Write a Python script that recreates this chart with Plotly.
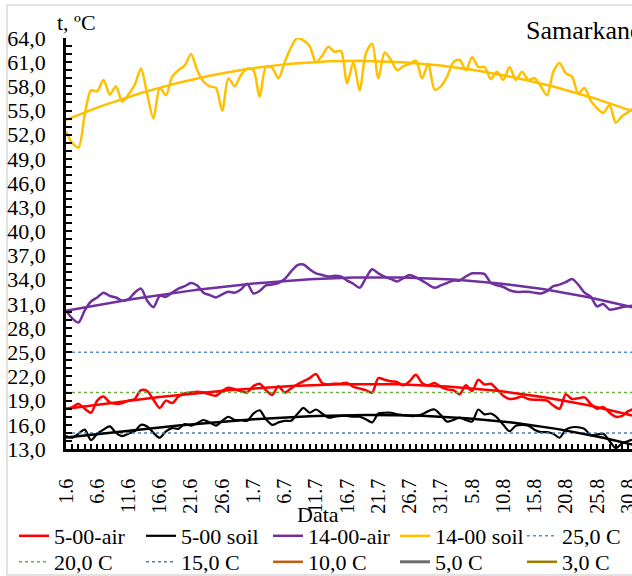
import numpy as np
import plotly.graph_objects as go

# ---- data -------------------------------------------------------------
month_lengths = {"6": 30, "7": 31, "8": 31}
dates = [f"{d}.{m}" for m, n in month_lengths.items() for d in range(1, n + 1)]
tick_labels = dates[::5]

air_5 = [18.0, 18.2, 18.6, 18.0, 17.5, 19.0, 19.5, 18.8, 18.6, 18.7,
         19.0, 19.2, 20.3, 20.2, 19.1, 18.1, 19.0, 18.7, 19.5, 19.9,
         20.0, 20.1, 20.0, 19.8, 19.6, 20.2, 20.6, 20.4, 20.2, 20.0,
         20.8, 21.1, 20.3, 19.7, 20.8, 20.0, 20.5, 21.0, 21.4, 21.8,
         22.3, 21.2, 21.0, 21.1, 21.1, 21.2, 20.7, 20.5, 20.3, 20.0,
         21.8, 21.6, 21.4, 21.3, 20.9, 21.4, 22.2, 21.2, 20.9, 21.2,
         20.7, 20.4, 20.3, 19.8, 20.9, 20.2, 21.6, 21.0, 21.1, 20.4,
         19.6, 19.2, 19.3, 19.5, 19.2, 19.1, 19.1, 19.0, 18.4, 18.0,
         19.8, 19.2, 19.3, 19.4, 18.6, 18.0, 18.2, 17.5, 17.0, 17.1,
         17.7, 18.0]
soil_5 = [14.6, 14.4, 14.9, 15.4, 14.1, 14.9, 15.4, 15.8, 15.0, 14.6,
          14.9, 15.2, 16.0, 15.8, 15.0, 14.4, 15.2, 15.6, 15.5, 16.1,
          15.9, 16.2, 16.6, 16.3, 15.9, 16.5, 17.0, 16.6, 16.6, 16.5,
          17.4, 17.8, 16.7, 16.0, 16.3, 16.5, 16.5, 17.3, 18.1, 17.5,
          17.9, 17.4, 16.9, 17.0, 17.1, 17.1, 17.0, 17.0, 16.7, 16.3,
          17.4, 17.5, 17.5, 17.3, 17.2, 17.1, 17.1, 17.3, 17.7, 17.9,
          17.2, 16.4, 16.6, 16.9, 16.6, 16.4, 17.9, 17.3, 17.4, 16.9,
          16.0, 15.2, 15.9, 16.0, 15.9, 15.4, 15.1, 15.1, 14.9, 14.4,
          15.4, 15.7, 15.7, 15.5, 14.7, 14.8, 14.9, 14.0, 13.1, 13.7,
          14.0, 14.2]
air_14 = [30.2, 29.2, 28.7, 30.2, 31.3, 31.8, 32.4, 32.0, 31.8, 31.4,
          31.6, 32.4, 32.9, 31.4, 30.6, 32.0, 31.9, 32.4, 32.9, 33.2,
          33.6, 33.3, 32.4, 32.1, 31.8, 32.2, 32.5, 32.4, 32.8, 33.5,
          32.3, 32.6, 33.3, 33.4, 33.6, 34.1, 35.0, 35.8, 35.9, 35.3,
          34.8, 34.6, 34.4, 34.5, 34.4, 33.9, 33.5, 33.0, 34.2, 35.3,
          34.8, 34.4, 34.1, 33.8, 34.2, 34.6, 34.3, 33.9, 33.4, 33.0,
          33.3, 33.6, 33.9, 33.9, 34.4, 34.8, 34.8, 34.7, 33.6, 33.3,
          33.1, 32.7, 32.5, 32.5, 32.5, 32.4, 32.3, 32.6, 33.2, 33.4,
          33.7, 34.1, 33.4, 32.4, 31.9, 30.7, 31.0, 30.3, 30.4, 30.6,
          30.7, 30.8]
soil_14 = [52.4, 51.0, 50.4, 54.5, 57.5, 57.4, 58.8, 57.0, 58.0, 56.1,
           57.0, 58.2, 60.2, 57.0, 54.0, 57.8, 56.9, 59.2, 60.0, 60.6,
           62.0, 60.0, 58.6, 58.0, 57.8, 55.0, 59.0, 58.0, 59.4, 60.2,
           60.0, 56.7, 60.4, 60.3, 59.0, 61.0, 62.8, 64.0, 63.7, 63.0,
           61.0, 61.8, 62.9, 62.3, 62.4, 58.4, 61.0, 57.5, 62.1, 63.3,
           59.0, 62.2, 61.3, 60.0, 60.5, 60.8, 61.2, 59.0, 60.8, 57.6,
           58.0, 59.2, 61.0, 61.3, 60.0, 61.6, 60.4, 60.4, 58.9, 59.8,
           58.8, 60.4, 58.8, 59.8, 58.8, 59.0, 58.0, 56.9, 59.8, 60.9,
           59.6, 59.2, 57.1, 57.8, 56.2, 55.3, 54.7, 55.7, 53.5, 54.3,
           54.8, 55.4]

thresholds = [25.0, 20.0, 15.0, 10.0, 5.0, 3.0]
threshold_names = ["25,0 C", "20,0 C", "15,0 C", "10,0 C", "5,0 C", "3,0 C"]

y_ticks = list(range(13, 65, 3))

# ---- figure -----------------------------------------------------------
FONT = "Liberation Serif"
FS = 22
W, H = 632, 576
ML, MT, MB = 66, 38, 127
PW, PH = W - ML, H - MT - MB

def px2x(px):
    return (px - ML) / PW

def py2y(py):
    return (MT + PH - py) / PH

days = np.arange(len(dates))
fig = go.Figure()

series = [
    ("5-00-air", air_5, "#FF0000", 2.5),
    ("5-00 soil", soil_5, "#000000", 2.2),
    ("14-00-air", air_14, "#7030A0", 2.5),
    ("14-00 soil", soil_14, "#FFC000", 2.5),
]
for name, vals, col, lw in series:
    fig.add_trace(go.Scatter(x=days, y=vals, name=name, mode="lines", legend="legend",
                             line=dict(color=col, width=lw, shape="spline", smoothing=0.8)))

th_styles = [
    ("#5B8FD0", "dot", 1.5), ("#70AD47", "dot", 1.5), ("#4F7FA8", "dot", 1.5),
    ("#C55A11", "solid", 2.5), ("#6E6E6E", "solid", 3), ("#A07C00", "solid", 2.5),
]
for i, ((val, nm), (col, dash, lw)) in enumerate(zip(zip(thresholds, threshold_names), th_styles)):
    fig.add_trace(go.Scatter(x=days, y=[val] * len(days), name=nm, mode="lines",
                             legend="legend" if i == 0 else "legend2",
                             line=dict(color=col, width=lw, dash=dash)))

# polynomial trend lines (like the spreadsheet trendlines)
for name, vals, col, lw in series:
    coef = np.polyfit(days, vals, 3)
    fig.add_trace(go.Scatter(x=days, y=np.polyval(coef, days), mode="lines",
                             showlegend=False, hoverinfo="skip",
                             line=dict(color=col, width=2.5)))

legend_common = dict(orientation="h", x=px2x(14), xanchor="left", yanchor="middle",
                     entrywidth=82, entrywidthmode="pixels", itemwidth=30,
                     tracegroupgap=0, font=dict(family=FONT, size=FS, color="black"),
                     bgcolor="rgba(0,0,0,0)")

x_end = 90.6
fig.update_layout(
    width=W, height=H,
    margin=dict(l=ML, r=0, t=MT, b=MB, autoexpand=False),
    paper_bgcolor="white", plot_bgcolor="white",
    font=dict(family=FONT, size=FS, color="black"),
    separators=", ",
    showlegend=True,
    legend=dict(legend_common, y=py2y(536)),
    legend2=dict(legend_common, y=py2y(562)),
    xaxis=dict(range=[0, x_end], showgrid=False, zeroline=False,
               showline=True, linecolor="black", linewidth=2.5,
               tickmode="array", tickvals=list(days[::5]), ticktext=tick_labels,
               tickangle=-90, ticks="inside", ticklen=5, tickwidth=1.5, tickcolor="black",
               ticklabelstandoff=19, ticklabeloverflow="allow",
               minor=dict(tickmode="linear", tick0=0, dtick=1, ticks="inside",
                          ticklen=5, tickwidth=1.5, tickcolor="black"),
               tickfont=dict(family=FONT, size=20)),
    yaxis=dict(range=[13, 64], showgrid=False, zeroline=False,
               showline=True, linecolor="black", linewidth=2.5,
               tickmode="array", tickvals=y_ticks, tickformat=".1f",
               ticks="inside", ticklen=6, tickwidth=1.5, tickcolor="black",
               ticklabelstandoff=13,
               minor=dict(tickmode="linear", tick0=13, dtick=1, ticks="inside",
                          ticklen=6, tickwidth=1.5, tickcolor="black"),
               tickfont=dict(family=FONT, size=FS)),
)

fig.add_annotation(text="Samarkand", xref="paper", yref="paper",
                   x=px2x(524), y=py2y(31), xanchor="left", yanchor="middle",
                   showarrow=False, font=dict(family=FONT, size=26, color="black"))
fig.add_annotation(text="t, ºC", xref="paper", yref="paper",
                   x=px2x(76), y=py2y(23), xanchor="center", yanchor="middle",
                   showarrow=False, font=dict(family=FONT, size=FS, color="black"))
fig.add_annotation(text="Data", xref="paper", yref="paper",
                   x=px2x(318), y=py2y(514), xanchor="center", yanchor="middle",
                   showarrow=False, font=dict(family=FONT, size=FS, color="black"))

fig.add_shape(type="rect", xref="paper", yref="paper",
              x0=px2x(7), x1=px2x(660), y0=py2y(575), y1=py2y(5),
              line=dict(color="#D9D9D9", width=1.5), fillcolor="rgba(0,0,0,0)",
              layer="below")

fig.write_html("out.html",
               config={"displayModeBar": False},
               post_script="document.body.style.margin='0';"
                           "document.body.style.overflow='hidden';")
